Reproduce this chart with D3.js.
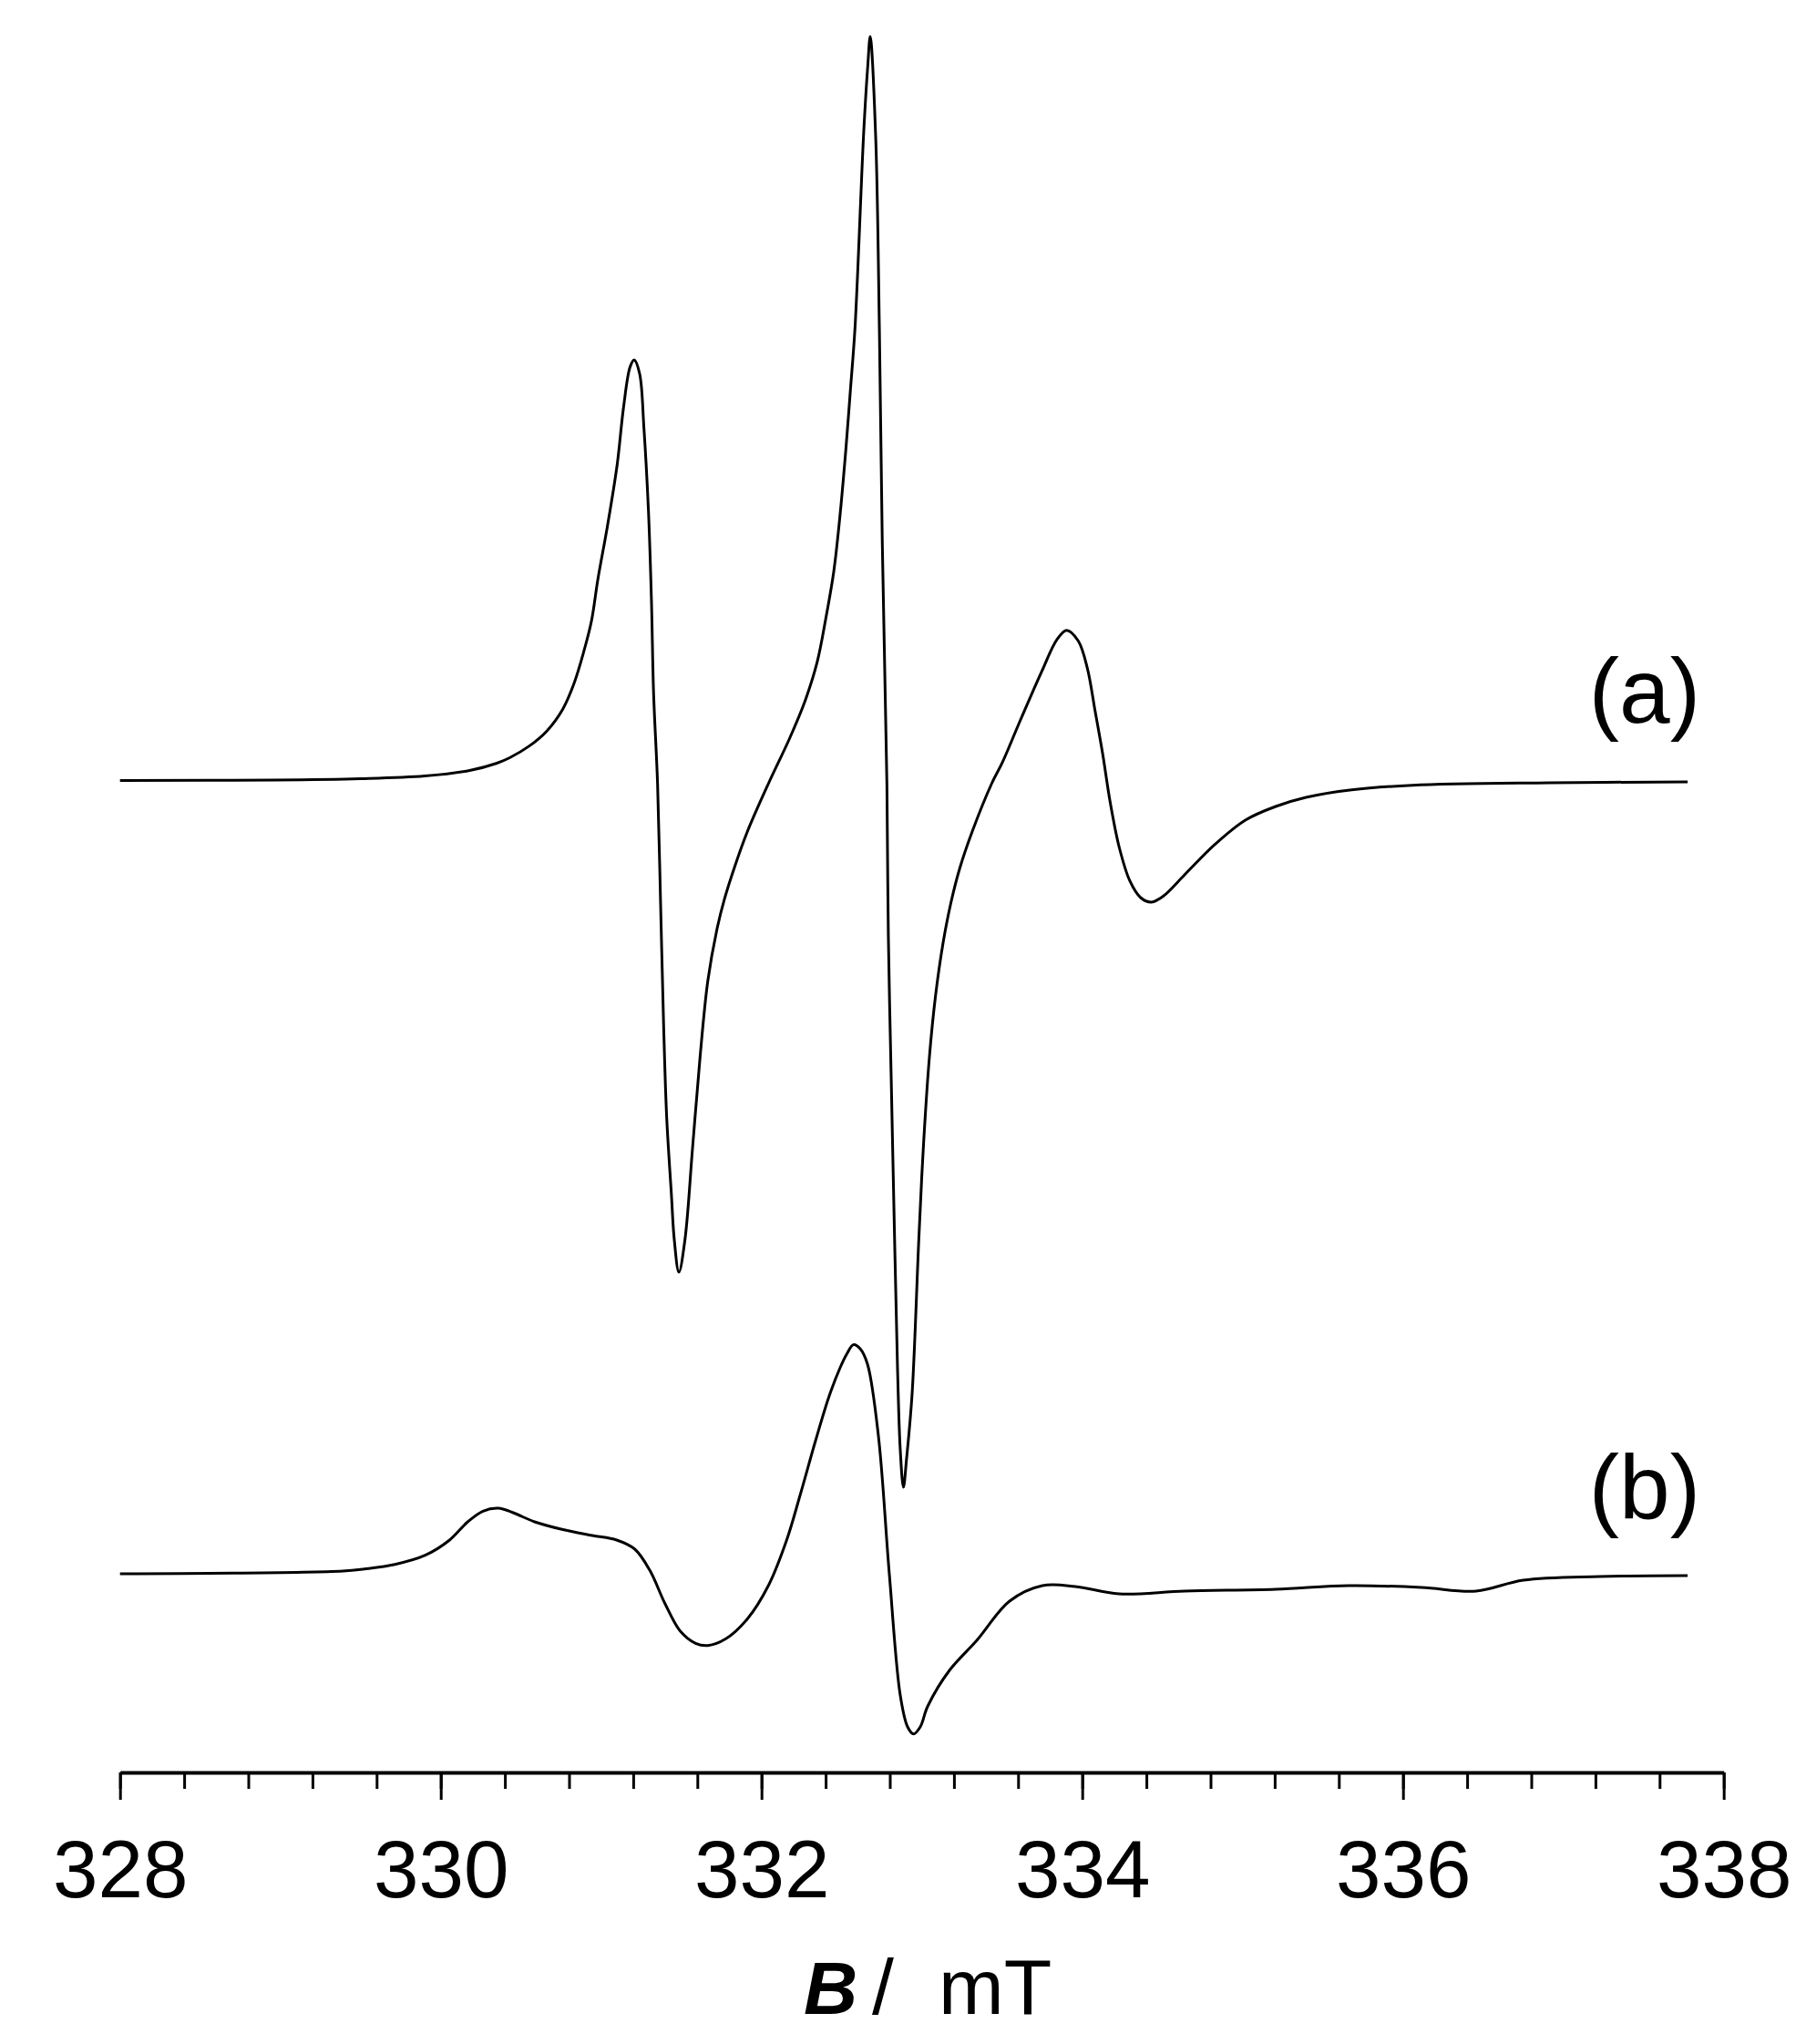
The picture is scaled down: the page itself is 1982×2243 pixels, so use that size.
<!DOCTYPE html>
<html>
<head>
<meta charset="utf-8">
<script src="https://cdn.jsdelivr.net/npm/d3@7"></script>
<style>
  body { margin: 0; background: #fff; }
</style>
</head>
<body>
<div id="chart"></div>
<script>
// EPR spectrum (a): field in mT, signal in arbitrary units
const fieldA = [328.00, 328.96, 329.5, 329.9, 330.18, 330.35, 330.43, 330.55, 330.66, 330.76,
  330.83, 330.89, 330.94, 330.98, 331.04, 331.10, 331.14, 331.18, 331.206, 331.24,
  331.267, 331.295, 331.314, 331.327, 331.352, 331.371, 331.39, 331.409, 331.438, 331.456,
  331.485, 331.523, 331.57, 331.617, 331.665, 331.722, 331.769, 331.835, 331.911, 332.043,
  332.176, 332.27, 332.347, 332.403, 332.451, 332.489, 332.526, 332.555, 332.583, 332.638,
  332.663, 332.678, 332.712, 332.735, 332.753, 332.782, 332.791, 332.81, 332.83, 332.848,
  332.865, 332.885, 332.905, 332.939, 332.981, 333.009, 333.047, 333.085, 333.132, 333.18,
  333.236, 333.313, 333.435, 333.502, 333.615, 333.748, 333.843, 333.903, 333.975, 334.032,
  334.08, 334.127, 334.174, 334.231, 334.297, 334.364, 334.43, 334.506, 334.638, 334.827,
  335.017, 335.206, 335.395, 335.68, 336.059, 336.911, 337.775];
const signalA = [0.1, 0.15, 0.3, 0.6, 1.2, 2.0, 2.6, 3.86, 5.51, 7.91,
  10.71, 14.13, 17.63, 22.2, 28.08, 34.75, 41.08, 45.45, 46.25, 44.75,
  38.75, 29.75, 19.75, 9.75, -0.25, -13.55, -26.92, -36.92, -45.25, -50.25,
  -53.85, -50.25, -40.25, -30.25, -21.92, -16.25, -12.92, -9.25, -5.55, -0.25,
  4.75, 8.75, 13.08, 18.08, 23.08, 29.08, 36.42, 43.08, 49.75, 71.45,
  78.6, 81.75, 70.75, 49.75, 26.45, -0.25, -16.92, -33.55, -50.25, -64.25,
  -73.25, -77.45, -74.25, -67.25, -50.25, -40.25, -30.25, -23.55, -17.75, -13.4,
  -9.55, -5.55, -0.25, 2.08, 6.75, 12.08, 15.58, 16.58, 15.42, 12.42,
  7.75, 3.08, -2.25, -7.25, -10.92, -12.75, -13.25, -12.58, -10.25, -6.92,
  -4.25, -2.75, -1.75, -0.92, -0.42, -0.15, -0.05];

// EPR spectrum (b)
const fieldB = [328.00, 329.39, 329.524, 329.714, 329.903, 330.055, 330.168, 330.263, 330.358, 330.452,
  330.585, 330.756, 330.945, 331.097, 331.21, 331.304, 331.399, 331.494, 331.589, 331.665,
  331.778, 331.911, 332.043, 332.157, 332.242, 332.337, 332.422, 332.49, 332.533, 332.573,
  332.615, 332.661, 332.729, 332.797, 332.865, 332.911, 332.948, 332.99, 333.036, 333.172,
  333.343, 333.547, 333.752, 333.956, 334.229, 334.638, 335.206, 335.661, 336.115, 336.456,
  336.751, 337.229, 337.775];
const signalB = [0.2, 0.5, 0.73, 1.23, 2.23, 3.9, 5.9, 7.07, 7.4, 6.9,
  5.9, 5.07, 4.4, 3.9, 2.9, 0.57, -3.1, -6.1, -7.43, -7.67,
  -6.93, -4.77, -1.1, 3.9, 8.9, 14.8, 19.7, 22.8, 24.35, 25.34,
  24.9, 23.2, 15.34, 0.2, -13.1, -16.6, -17.38, -16.6, -14.35, -10.4,
  -7.1, -2.8, -1.1, -1.2, -2.0, -1.7, -1.5, -1.1, -1.3, -1.7,
  -0.5, -0.1, 0.0];

const traceLabels = ["(a)", "(b)"];
const traceOffsets = [0, -87.15];
const majorTicks = [328, 330, 332, 334, 336, 338];
const minorTicks = d3.range(0, 26).map(i => 328 + i * 0.4);

const width = 1982, height = 2243;
const axisY = 1945;

const svg = d3.select("#chart")
  .append("svg")
    .attr("width", width)
    .attr("height", height)
    .style("background", "#fff");

const xScale = d3.scaleLinear()
  .domain([328, 338])
  .range([131.7, 1891.7]);

const yScale = d3.scaleLinear()
  .domain([-108.75, 85.75])
  .range([axisY, 0]);

// minor ticks
svg.append("g")
  .attr("transform", `translate(0, ${axisY})`)
  .call(d3.axisBottom(xScale).tickValues(minorTicks).tickSize(18).tickSizeOuter(0).tickFormat(""))
  .call(g => g.select(".domain").remove())
  .call(g => g.selectAll("line").attr("stroke", "#000").attr("stroke-width", 3));

// major ticks, labels and axis line
svg.append("g")
  .attr("transform", `translate(0, ${axisY})`)
  .call(d3.axisBottom(xScale).tickValues(majorTicks).tickSize(30).tickSizeOuter(0).tickFormat(d3.format("d")))
  .call(g => g.select(".domain").attr("stroke", "#000").attr("stroke-width", 4))
  .call(g => g.selectAll("line").attr("stroke", "#000").attr("stroke-width", 3))
  .call(g => g.selectAll("text")
    .attr("y", 137)
    .attr("dy", 0)
    .attr("fill", "#000")
    .style("font-family", "'Liberation Sans', Arial, sans-serif")
    .style("font-size", "89px"));

// axis title
const title = svg.append("text")
  .attr("y", 2210)
  .style("font-family", "'Liberation Sans', Arial, sans-serif")
  .style("font-size", "86px")
  .attr("fill", "#000");
title.append("tspan").attr("x", 882).style("font-style", "italic").style("font-weight", "bold")
  .style("font-size", "82px").text("B");
title.append("tspan").attr("x", 957).text("/");
title.append("tspan").attr("x", 1030).text("mT");

const line = d3.line()
  .x(d => xScale(d[0]))
  .y(d => yScale(d[1]))
  .curve(d3.curveCatmullRom.alpha(0.5));

const traces = [
  fieldA.map((b, i) => [b, signalA[i] + traceOffsets[0]]),
  fieldB.map((b, i) => [b, signalB[i] + traceOffsets[1]])
];

svg.selectAll(".trace")
  .data(traces)
  .enter()
  .append("path")
    .attr("class", "trace")
    .attr("d", line)
    .attr("fill", "none")
    .attr("stroke", "#000")
    .attr("stroke-width", 3)
    .attr("stroke-linejoin", "round");

// trace labels
const labelY = [793, 1667];
svg.selectAll(".trace-label")
  .data(traceLabels)
  .enter()
  .append("text")
    .attr("class", "trace-label")
    .attr("x", 1866)
    .attr("y", (d, i) => labelY[i])
    .attr("text-anchor", "end")
    .style("font-family", "'Liberation Sans', Arial, sans-serif")
    .style("font-size", "100px")
    .attr("fill", "#000")
    .text(d => d);
</script>
</body>
</html>
